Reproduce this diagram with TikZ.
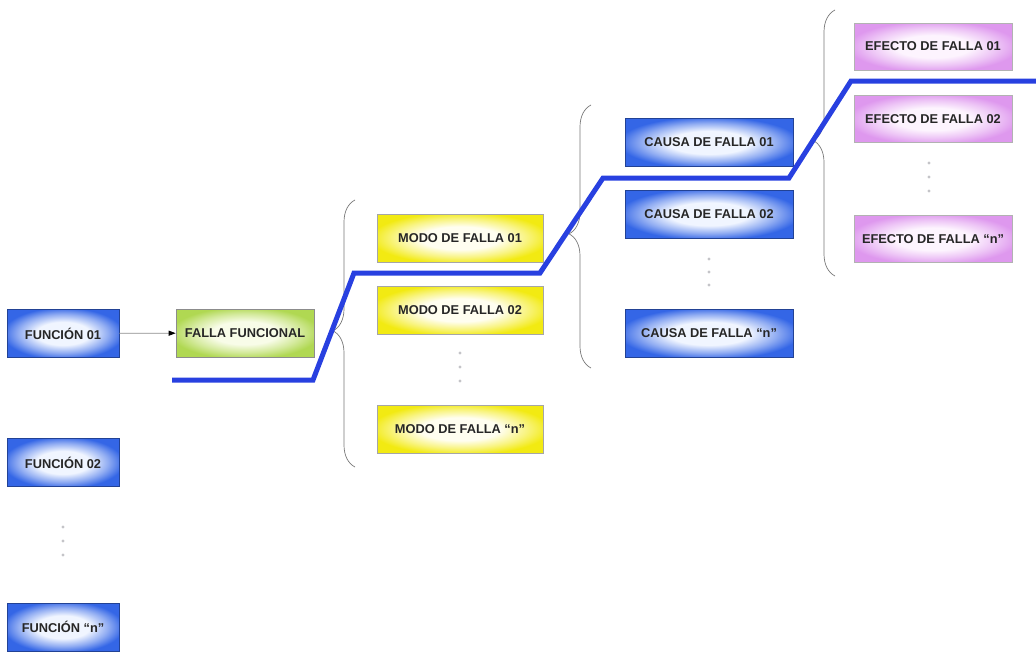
\documentclass[tikz,border=0pt]{standalone}
\usepackage{fontspec}
\setmainfont{Liberation Sans}
\usetikzlibrary{decorations.pathreplacing,arrows.meta}

\definecolor{boxblue}{RGB}{52,102,230}
\definecolor{boxblueC}{RGB}{240,245,255}
\definecolor{boxyel}{RGB}{242,234,18}
\definecolor{boxyelC}{RGB}{255,254,240}
\definecolor{boxgreen}{RGB}{176,216,82}
\definecolor{boxgreenC}{RGB}{248,252,232}
\definecolor{boxpink}{RGB}{222,152,238}
\definecolor{boxpinkC}{RGB}{253,244,254}
\definecolor{pathblue}{RGB}{40,64,224}
\definecolor{bracegray}{RGB}{120,120,120}
\definecolor{dotgray}{RGB}{196,196,200}

% soft glow fills: pale centre widening into a saturated rim
\pgfdeclareradialshading{glowblue}{\pgfpoint{0bp}{0bp}}{color(0bp)=(boxblueC); color(12bp)=(boxblueC); color(20bp)=(boxblue!50!boxblueC); color(27bp)=(boxblue); color(50bp)=(boxblue)}
\pgfdeclareradialshading{glowyellow}{\pgfpoint{0bp}{0bp}}{color(0bp)=(boxyelC); color(12bp)=(boxyelC); color(20bp)=(boxyel!50!boxyelC); color(27bp)=(boxyel); color(50bp)=(boxyel)}
\pgfdeclareradialshading{glowgreen}{\pgfpoint{0bp}{0bp}}{color(0bp)=(boxgreenC); color(12bp)=(boxgreenC); color(20bp)=(boxgreen!50!boxgreenC); color(27bp)=(boxgreen); color(50bp)=(boxgreen)}
\pgfdeclareradialshading{glowpink}{\pgfpoint{0bp}{0bp}}{color(0bp)=(boxpinkC); color(12bp)=(boxpinkC); color(20bp)=(boxpink!50!boxpinkC); color(27bp)=(boxpink); color(50bp)=(boxpink)}

\tikzset{
  card/.style={rectangle, inner sep=0pt, line width=0.6pt,
    font=\bfseries\fontsize{12.8}{14}\selectfont, text=black!85},
  bluecard/.style={card, shading=glowblue, draw=boxblue!65!black,
    minimum width=112pt, minimum height=48pt},
  causecard/.style={card, shading=glowblue, draw=boxblue!65!black,
    minimum width=168pt, minimum height=48pt},
  modecard/.style={card, shading=glowyellow, draw=black!35,
    minimum width=166pt, minimum height=48pt},
  failcard/.style={card, shading=glowgreen, draw=black!45,
    minimum width=138pt, minimum height=48pt},
  effectcard/.style={card, shading=glowpink, draw=black!30,
    minimum width=158pt, minimum height=47pt},
  grpbrace/.style={draw=bracegray, line width=0.7pt,
    decorate, decoration={brace, amplitude=22pt, aspect=0.51}},
  vdot/.style={circle, fill=dotgray, inner sep=0pt, minimum size=3.2pt},
  chain/.style={draw=pathblue, line width=5pt, line join=miter},
}

\begin{document}
\begin{tikzpicture}[x=1pt, y=-1pt]
\useasboundingbox (0,0) rectangle (1036,653);

% functions
\node[bluecard] (f1) at (63,333.5) {FUNCIÓN 01};
\node[bluecard] (f2) at (63,462.5) {FUNCIÓN 02};
\node[bluecard] (fn) at (63,627) {FUNCIÓN “n”};
\node[vdot] (fd1) at (63,527) {};
\node[vdot] (fd2) at (63,541) {};
\node[vdot] (fd3) at (63,555) {};

% functional failure
\node[failcard] (ff) at (245,333) {FALLA FUNCIONAL};
\draw[draw=black!45, line width=0.8pt, -{Triangle[length=7pt,width=5pt,fill=black,color=black]}] (f1) -- (ff);

% failure modes
\node[modecard] (m1) at (460,238) {MODO DE FALLA 01};
\node[modecard] (m2) at (460,310) {MODO DE FALLA 02};
\node[modecard] (mn) at (460,429) {MODO DE FALLA “n”};
\node[vdot] (md1) at (460,353) {};
\node[vdot] (md2) at (460,367) {};
\node[vdot] (md3) at (460,381) {};

% failure causes
\node[causecard] (c1) at (709,142.5) {CAUSA DE FALLA 01};
\node[causecard] (c2) at (709,214) {CAUSA DE FALLA 02};
\node[causecard] (cn) at (709,333.5) {CAUSA DE FALLA “n”};
\node[vdot] (cd1) at (709,259) {};
\node[vdot] (cd2) at (709,272) {};
\node[vdot] (cd3) at (709,285) {};

% failure effects
\node[effectcard] (e1) at (933,46.5) {EFECTO DE FALLA 01};
\node[effectcard] (e2) at (933,119) {EFECTO DE FALLA 02};
\node[effectcard] (en) at (933,239) {EFECTO DE FALLA “n”};
\node[vdot] (ed1) at (929,163) {};
\node[vdot] (ed2) at (929,177) {};
\node[vdot] (ed3) at (929,191) {};

% group braces
\draw[grpbrace] (355,467) -- (355,200);
\draw[grpbrace] (591,368) -- (591,105);
\draw[grpbrace] (835,276) -- (835,10);

% analysis path
\draw[chain] (172,380) -- (313,380) -- (354,273) -- (540,273) -- (603,178)
  -- (789,178) -- (851,81) -- (1036,81);
\end{tikzpicture}
\end{document}
